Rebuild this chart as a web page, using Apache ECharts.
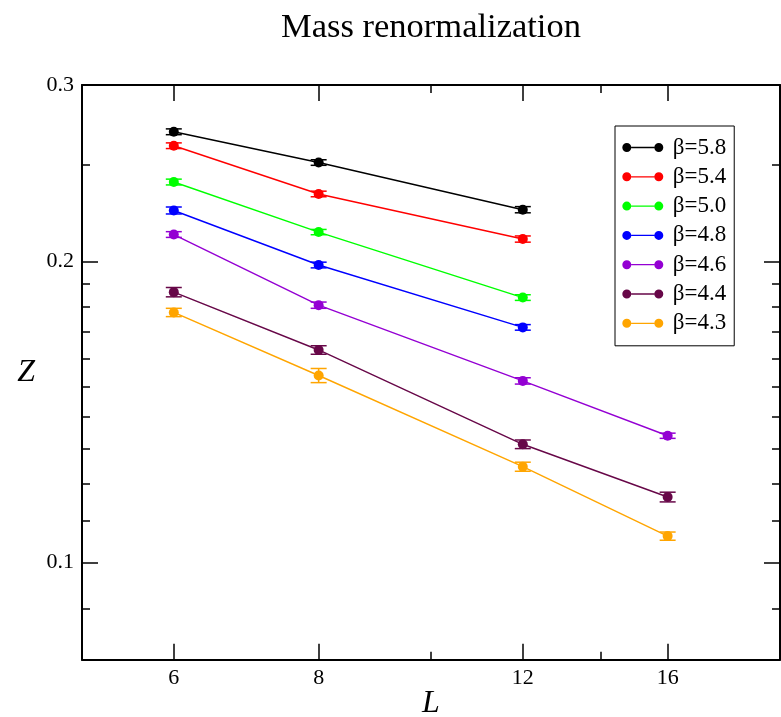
<!DOCTYPE html>
<html>
<head>
<meta charset="utf-8">
<script src="https://cdn.jsdelivr.net/npm/echarts@6/dist/echarts.min.js"></script>
<style>
html,body{margin:0;padding:0;background:#fff;}
#chart{width:781px;height:717px;}
</style>
</head>
<body>
<div id="chart"></div>
<script>
// ---- data ----
const L = [6, 8, 12, 16];
const seriesNames = ['β=5.8', 'β=5.4', 'β=5.0', 'β=4.8', 'β=4.6', 'β=4.4', 'β=4.3'];
const z58 = [0.2694, 0.2510, 0.2252];
const z54 = [0.2609, 0.2335, 0.2105];
const z50 = [0.2400, 0.2139, 0.1840];
const z48 = [0.2248, 0.1983, 0.1718];
const z46 = [0.2127, 0.1808, 0.1519, 0.1339];
const z44 = [0.1863, 0.1631, 0.1313, 0.1163];
const z43 = [0.1778, 0.1538, 0.1247, 0.1063];
const e58 = [0.0018, 0.0016, 0.0016];
const e54 = [0.0017, 0.0015, 0.0015];
const e50 = [0.0016, 0.0013, 0.0012];
const e48 = [0.0018, 0.0013, 0.0011];
const e46 = [0.0014, 0.0013, 0.0011, 0.0008];
const e44 = [0.0020, 0.0016, 0.0013, 0.0013];
const e43 = [0.0017, 0.0025, 0.0013, 0.0010];
const xMajorTicks = [6, 8, 12, 16];
const xMinorTicks = [10, 14];
const yMajorTicks = [0.1, 0.2, 0.3];
const yMinorTicks = [0.09, 0.11, 0.12, 0.13, 0.14, 0.15, 0.16, 0.17, 0.18, 0.19, 0.25];

const colors = ['#000000', '#ff0000', '#00ff00', '#0000ff', '#9400d3', '#670748', '#ffa500'];
const values = [z58, z54, z50, z48, z46, z44, z43];
const errs = [e58, e54, e50, e48, e46, e44, e43];

const FONT = '"Liberation Serif", "Times New Roman", serif';

const chart = echarts.init(document.getElementById('chart'), null, {renderer: 'canvas'});

function xAxisDef(pos, ticks, len, showLine, showLabel) {
  return {
    type: 'log', logBase: 10, min: 5, max: 20, position: pos,
    gridIndex: 0,
    axisLine: {show: showLine, onZero: false, lineStyle: {color: '#000', width: 2}},
    axisTick: {show: true, inside: true, length: len, customValues: ticks, lineStyle: {color: '#000', width: 1.5}},
    axisLabel: {show: showLabel, customValues: ticks, margin: 8, fontFamily: FONT, fontSize: 22, color: '#000',
      formatter: v => String(v)},
    splitLine: {show: false}, minorTick: {show: false}, minorSplitLine: {show: false}
  };
}
function yAxisDef(pos, ticks, len, showLine, showLabel) {
  return {
    type: 'log', logBase: 10, min: 0.08, max: 0.3, position: pos,
    gridIndex: 0,
    axisLine: {show: showLine, onZero: false, lineStyle: {color: '#000', width: 2}},
    axisTick: {show: true, inside: true, length: len, customValues: ticks, lineStyle: {color: '#000', width: 1.5}},
    axisLabel: {show: showLabel, customValues: ticks, margin: 8, fontFamily: FONT, fontSize: 22, color: '#000',
      formatter: v => String(Math.round(v * 100) / 100)},
    splitLine: {show: false}, minorTick: {show: false}, minorSplitLine: {show: false}
  };
}

const xAxes = [
  xAxisDef('bottom', xMajorTicks, 16, true, true),
  xAxisDef('bottom', xMinorTicks, 8, false, false),
  xAxisDef('top', xMajorTicks, 16, true, false),
  xAxisDef('top', xMinorTicks, 8, false, false)
];
xAxes[0].name = 'L';
xAxes[0].nameLocation = 'middle';
xAxes[0].nameGap = 28;
xAxes[0].nameMoveOverlap = false;
xAxes[0].nameTextStyle = {fontFamily: FONT, fontStyle: 'italic', fontSize: 32, color: '#000'};

const yAxes = [
  yAxisDef('left', yMajorTicks, 16, true, true),
  yAxisDef('left', yMinorTicks, 8, false, false),
  yAxisDef('right', yMajorTicks, 16, true, false),
  yAxisDef('right', yMinorTicks, 8, false, false)
];
yAxes[0].name = 'Z';
yAxes[0].nameLocation = 'middle';
yAxes[0].nameGap = 47;
yAxes[0].nameRotate = 0;
yAxes[0].nameMoveOverlap = false;
yAxes[0].nameTextStyle = {fontFamily: FONT, fontStyle: 'italic', fontSize: 32, color: '#000'};

const series = [];
seriesNames.forEach((name, i) => {
  series.push({
    name: name, type: 'line', xAxisIndex: 0, yAxisIndex: 0,
    data: values[i].map((v, k) => [L[k], v]),
    symbol: 'circle', symbolSize: 10, showAllSymbol: true,
    lineStyle: {color: colors[i], width: 1.4},
    itemStyle: {color: colors[i], borderWidth: 0},
    z: 3
  });
});
seriesNames.forEach((name, i) => {
  series.push({
    name: name + ' err', type: 'custom', xAxisIndex: 0, yAxisIndex: 0,
    data: values[i].map((v, k) => [L[k], v - errs[i][k], v + errs[i][k]]),
    encode: {x: 0, y: [1, 2]},
    renderItem: function (params, api) {
      const x = api.value(0);
      const lo = api.coord([x, api.value(1)]);
      const hi = api.coord([x, api.value(2)]);
      const hw = 8;
      const st = {stroke: colors[i], lineWidth: 1.5, fill: null};
      return {
        type: 'group',
        children: [
          {type: 'line', shape: {x1: lo[0], y1: lo[1], x2: hi[0], y2: hi[1]}, style: st},
          {type: 'line', shape: {x1: lo[0] - hw, y1: lo[1], x2: lo[0] + hw, y2: lo[1]}, style: st},
          {type: 'line', shape: {x1: hi[0] - hw, y1: hi[1], x2: hi[0] + hw, y2: hi[1]}, style: st}
        ]
      };
    },
    z: 2
  });
});

const legendIcon = 'path://M0,4.5A4.5,4.5,0,1,0,9,4.5A4.5,4.5,0,1,0,0,4.5ZM32,4.5A4.5,4.5,0,1,0,41,4.5A4.5,4.5,0,1,0,32,4.5ZM9,3.85L32,3.85L32,5.15L9,5.15Z';

chart.setOption({
  animation: false,
  backgroundColor: '#fff',
  title: {
    text: 'Mass renormalization', left: 426, top: 5, textAlign: 'center',
    textStyle: {fontFamily: FONT, fontSize: 34.5, fontWeight: 'normal', color: '#000'}
  },
  legend: {
    data: seriesNames.map(n => ({name: n, icon: legendIcon})),
    orient: 'vertical', left: 615, top: 126,
    padding: [10, 8, 11, 7.3],
    itemWidth: 44, itemHeight: 9, itemGap: 6.3,
    borderColor: '#000', borderWidth: 1, borderRadius: 0,
    selectedMode: false,
    textStyle: {fontFamily: FONT, fontSize: 23, color: '#000', lineHeight: 22, padding: [0, 0, 0, 3]}
  },
  grid: {left: 82, top: 85, width: 698, height: 574.7, containLabel: false, outerBoundsMode: 'none'},
  xAxis: xAxes,
  yAxis: yAxes,
  series: series
});
</script>
</body>
</html>
